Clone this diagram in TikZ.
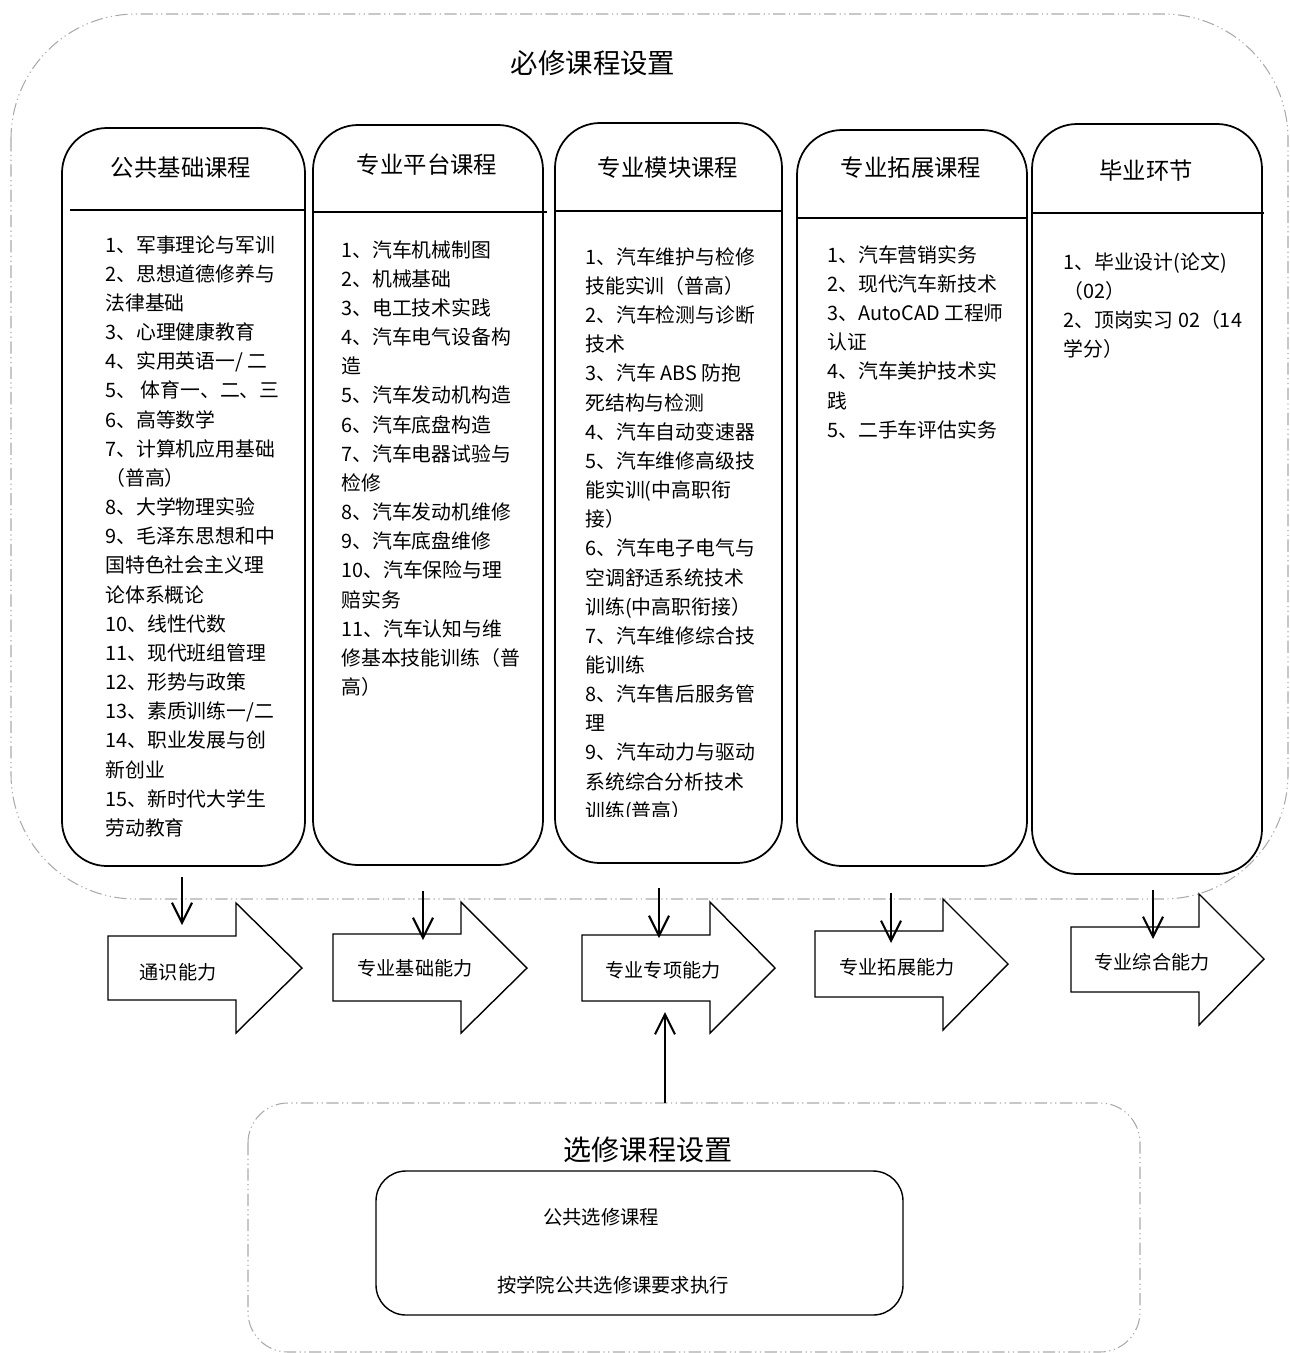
\documentclass[tikz,border=0pt]{standalone}
\usepackage{fontspec}
\setmainfont{Noto Sans CJK SC}
\usetikzlibrary{arrows.meta}
\definecolor{framegray}{RGB}{170,170,170}

\begin{document}
\begin{tikzpicture}[x=0.02cm,y=-0.02cm,
	reqframe/.style={framegray,line width=0.6pt,dash pattern=on 7pt off 2pt on 0.7pt off 2pt on 0.7pt off 2pt},
	colbox/.style={line width=1pt,rounded corners=0.9cm},
	capa/.style={line width=0.8pt,fill=white},
	down/.style={line width=1.2pt,-{Straight Barb[length=4mm,width=4mm,line width=1.2pt]}},
	item/.style={anchor=north west,align=left,inner sep=0pt,font=\fontsize{11.3}{16.6}\selectfont},
	colhead/.style={inner sep=0pt,font=\fontsize{13.3}{15}\selectfont},
	capname/.style={inner sep=0pt,font=\fontsize{10.9}{13}\selectfont}]

	% page
	\useasboundingbox (0,0) rectangle (1290,1353);

	% required courses frame
	\draw[reqframe,rounded corners=2.5cm] (11,14) rectangle (1288,899);
	\node[inner sep=0pt,font=\fontsize{15.6}{18}\selectfont] (req) at (593,63) {必修课程设置};

	% columns
	\draw[colbox] (62,128) rectangle (305,866);
	\draw[line width=1pt] (70,210)--(305,210);
	\draw[colbox] (313,125) rectangle (543,865);
	\draw[line width=1pt] (313,212)--(547,212);
	\draw[colbox] (555,123) rectangle (782,863);
	\draw[line width=1pt] (554,211)--(782,211);
	\draw[colbox] (797,130) rectangle (1027,866);
	\draw[line width=1pt] (797,218)--(1027,218);
	\draw[colbox] (1032,124) rectangle (1262,874);
	\draw[line width=1pt] (1032,213)--(1264,213);

	% column titles
	\node[colhead] (h1) at (181,168) {公共基础课程};
	\node[colhead] (h2) at (427,165) {专业平台课程};
	\node[colhead] (h3) at (668,168) {专业模块课程};
	\node[colhead] (h4) at (911,168) {专业拓展课程};
	\node[colhead] (h5) at (1146,171) {毕业环节};

	% course lists
	\node[item] (c1) at (105,235) {1、军事理论与军训\\2、思想道德修养与\\法律基础\\3、心理健康教育\\4、实用英语一/ 二\\5、 体育一、二、三\\6、高等数学\\7、计算机应用基础\\（普高）\\8、大学物理实验\\9、毛泽东思想和中\\国特色社会主义理\\论体系概论\\10、线性代数\\11、现代班组管理\\12、形势与政策\\13、素质训练一/二\\14、职业发展与创\\新创业\\15、新时代大学生\\劳动教育};
	\node[item] (c2) at (341,240) {1、汽车机械制图\\2、机械基础\\3、电工技术实践\\4、汽车电气设备构\\造\\5、汽车发动机构造\\6、汽车底盘构造\\7、汽车电器试验与\\检修\\8、汽车发动机维修\\9、汽车底盘维修\\10、汽车保险与理\\赔实务\\11、汽车认知与维\\修基本技能训练（普\\高）};
	\begin{scope}
		\clip (555,230) rectangle (782,816);
		\node[item] (c3) at (585,247) {1、汽车维护与检修\\技能实训（普高）\\2、汽车检测与诊断\\技术\\3、汽车 ABS 防抱\\死结构与检测\\4、汽车自动变速器\\5、汽车维修高级技\\能实训(中高职衔\\接）\\6、汽车电子电气与\\空调舒适系统技术\\训练(中高职衔接）\\7、汽车维修综合技\\能训练\\8、汽车售后服务管\\理\\9、汽车动力与驱动\\系统综合分析技术\\训练(普高）};
	\end{scope}
	\node[item] (c4) at (827,245) {1、汽车营销实务\\2、现代汽车新技术\\3、AutoCAD 工程师\\认证\\4、汽车美护技术实\\践\\5、二手车评估实务};
	\node[item] (c5) at (1063,252) {1、毕业设计(论文)\\（02）\\2、顶岗实习 02（14\\学分）};

	% capability arrows
	\draw[capa] (108,936)--(236,936)--(236,903)--(302,968)--(236,1033)--(236,1000)--(108,1000)--cycle;
	\draw[capa] (333,934)--(461,934)--(461,902)--(527,968)--(461,1033)--(461,1001)--(333,1001)--cycle;
	\draw[capa] (582,935)--(710,935)--(710,902)--(775,968)--(710,1033)--(710,1001)--(582,1001)--cycle;
	\draw[capa] (815,931)--(943,931)--(943,899)--(1008,964)--(943,1030)--(943,997)--(815,997)--cycle;
	\draw[capa] (1071,927)--(1199,927)--(1199,894)--(1264,959)--(1199,1025)--(1199,992)--(1071,992)--cycle;

	% capability names
	\node[capname] (n1) at (178,972) {通识能力};
	\node[capname] (n2) at (415,968) {专业基础能力};
	\node[capname] (n3) at (663,970) {专业专项能力};
	\node[capname] (n4) at (897,967) {专业拓展能力};
	\node[capname] (n5) at (1152,962) {专业综合能力};

	% down arrows
	\coordinate (s1) at (182,877);
	\coordinate (e1) at (182,925);
	\coordinate (s2) at (423,891);
	\coordinate (e2) at (423,940);
	\coordinate (s3) at (659,888);
	\coordinate (e3) at (659,938);
	\coordinate (s4) at (891,893);
	\coordinate (e4) at (891,943);
	\coordinate (s5) at (1153,890);
	\coordinate (e5) at (1153,939);
	\draw[down] (s1)--(e1);
	\draw[down] (s2)--(e2);
	\draw[down] (s3)--(e3);
	\draw[down] (s4)--(e4);
	\draw[down] (s5)--(e5);

	% elective courses frame
	\draw[reqframe,rounded corners=0.8cm] (248,1103) rectangle (1140,1352);
	\node[inner sep=0pt,font=\fontsize{16}{18}\selectfont] (opt) at (648,1150) {选修课程设置};
	\draw[line width=0.8pt,rounded corners=0.6cm] (376,1171) rectangle (903,1315);
	\node[capname,font=\fontsize{11}{13}\selectfont] (p1) at (601,1217) {公共选修课程};
	\node[capname,font=\fontsize{11}{13}\selectfont] (p2) at (613,1285) {按学院公共选修课要求执行};

	% up arrow
	\coordinate (u1) at (665,1103);
	\coordinate (u2) at (665,1012);
	\draw[down] (u1)--(u2);

\end{tikzpicture}
\end{document}
